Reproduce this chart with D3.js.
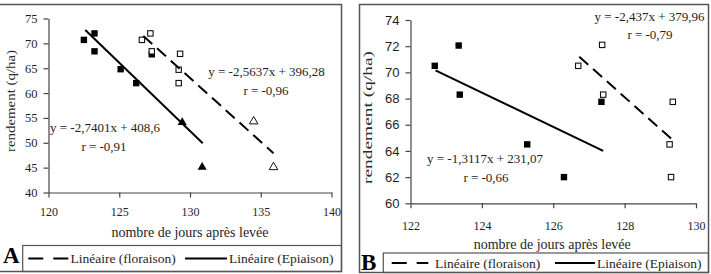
<!DOCTYPE html>
<html><head><meta charset="utf-8">
<script src="https://cdn.jsdelivr.net/npm/d3@7"></script>
<style>body{margin:0;background:#fff}svg{display:block}</style>
</head><body>
<svg id="c" width="711" height="274"></svg>
<script>
// ---------- DATA ----------
// Panel A
const aXTicks = [120, 125, 130, 135, 140];
const aYTicks = [40, 45, 50, 55, 60, 65, 70, 75];
const aFloraisonSquares = [[126.6,70.7],[127.2,72.0],[127.3,68.4],[129.3,67.9],[129.2,64.7],[129.2,62.0]];
const aFloraisonTriangles = [[134.5,54.3],[135.9,45.1]];
const aEpiaisonSquares = [[122.5,70.7],[123.25,72.0],[123.25,68.4],[125.1,64.8],[126.2,62.0],[127.3,67.8]];
const aEpiaisonTriangles = [[129.45,54.1],[130.86,45.1]];
const aFloraisonTrend = [[126.7,71.5],[135.9,47.9]];
const aEpiaisonTrend = [[122.6,72.7],[130.9,49.9]];
const aLabels = ["y = -2,5637x + 396,28","r = -0,96","y = -2,7401x + 408,6","r = -0,91"];
// Panel B
const bXTicks = [122, 124, 126, 128, 130];
const bYTicks = [60, 62, 64, 66, 68, 70, 72, 74];
const bFloraisonSquares = [[126.7,70.5],[127.37,72.1],[127.4,68.3],[129.35,67.75],[129.26,64.5],[129.3,62.0]];
const bEpiaisonSquares = [[122.68,70.5],[123.35,72.05],[123.38,68.3],[125.27,64.5],[126.3,62.0],[127.35,67.75]];
const bFloraisonTrend = [[126.73,71.2],[129.4,64.7]];
const bEpiaisonTrend = [[122.7,70.15],[127.4,64.0]];
const bLabels = ["y = -2,437x + 379,96","r = -0,79","y = -1,3117x + 231,07","r = -0,66"];
const legendNames = ["Linéaire (floraison)","Linéaire (Epiaison)"];

// ---------- DRAW ----------
const svg = d3.select("#c");
const SERIF = "'Liberation Serif','Times New Roman',serif";
const SANS = "'Liberation Sans',Arial,sans-serif";
const TXT = "#1e1e1e", AX = "#444";

function frame(x0,y0,x1,y1){
  svg.append("rect").attr("x",x0).attr("y",y0).attr("width",x1-x0).attr("height",y1-y0)
    .attr("fill","none").attr("stroke","#555").attr("stroke-width",1.5);
}

function panel(cfg){
  const g = svg.append("g");
  const x = d3.scaleLinear().domain(cfg.xd).range(cfg.xr);
  const y = d3.scaleLinear().domain(cfg.yd).range(cfg.yr);
  // axes
  const xa = g.append("g").attr("transform",`translate(0,${cfg.yr[0]})`)
    .call(d3.axisBottom(x).tickValues(cfg.xt).tickSize(5).tickPadding(cfg.xpad).tickSizeOuter(0));
  xa.attr("font-family",SERIF);
  xa.selectAll("text").attr("font-family",SERIF).attr("font-size",cfg.xfs).attr("fill",TXT);
  const ya = g.append("g").attr("transform",`translate(${cfg.xr[0]},0)`)
    .call(d3.axisLeft(y).tickValues(cfg.yt).tickSize(5).tickPadding(cfg.ypad).tickSizeOuter(0));
  ya.attr("font-family",cfg.yfont);
  ya.selectAll("text").attr("font-family",cfg.yfont).attr("font-size",cfg.yfs).attr("fill",TXT);
  g.selectAll(".domain").attr("stroke",AX).attr("stroke-width",1.2);
  g.selectAll(".tick line").attr("stroke",AX).attr("stroke-width",1.2);
  // markers
  const sq = 6.4;
  g.selectAll(null).data(cfg.epS).join("rect")
    .attr("x",d=>x(d[0])-sq/2).attr("y",d=>y(d[1])-sq/2).attr("width",sq).attr("height",sq).attr("fill","#000");
  g.selectAll(null).data(cfg.epT).join("path")
    .attr("transform",d=>`translate(${x(d[0])},${y(d[1])})`)
    .attr("d",d3.symbol(d3.symbolTriangle,36)).attr("fill","#000");
  g.selectAll(null).data(cfg.flS).join("rect")
    .attr("x",d=>x(d[0])-sq/2+0.5).attr("y",d=>y(d[1])-sq/2+0.5).attr("width",sq-1).attr("height",sq-1)
    .attr("fill","#fff").attr("stroke","#111").attr("stroke-width",1.1);
  g.selectAll(null).data(cfg.flT).join("path")
    .attr("transform",d=>`translate(${x(d[0])},${y(d[1])})`)
    .attr("d",d3.symbol(d3.symbolTriangle,32)).attr("fill","#fff").attr("stroke","#111").attr("stroke-width",1);
  // trend lines
  const line = d3.line().x(d=>x(d[0])).y(d=>y(d[1]));
  g.append("path").attr("d",line(cfg.epL)).attr("fill","none").attr("stroke","#000").attr("stroke-width",2);
  g.append("path").attr("d",line(cfg.flL)).attr("fill","none").attr("stroke","#000").attr("stroke-width",2)
    .attr("stroke-dasharray","12,6.5");
  // equation labels
  cfg.lab.forEach((t,i)=>{
    g.append("text").attr("x",cfg.labPos[i][0]).attr("y",cfg.labPos[i][1]).attr("text-anchor","middle")
      .attr("font-family",SERIF).attr("font-size",13).attr("fill",TXT).text(t);
  });
  // axis titles
  g.append("text").attr("x",(cfg.xr[0]+cfg.xr[1])/2 + cfg.xtOff).attr("y",cfg.xtY).attr("text-anchor","middle")
    .attr("font-family",SERIF).attr("font-size",14).attr("fill",TXT).text("nombre de jours après levée");
  g.append("text").attr("transform",`translate(${cfg.ytX},${cfg.ytY}) rotate(-90)`).attr("text-anchor","middle")
    .attr("font-family",SERIF).attr("font-size",13).attr("fill","#2a2a2a")
    .attr("textLength",cfg.ytLen).attr("lengthAdjust","spacingAndGlyphs").text("rendement (q/ha)");
  // legend
  const L = cfg.leg;
  svg.append("rect").attr("x",L.x0).attr("y",L.y0).attr("width",L.x1-L.x0).attr("height",L.y1-L.y0)
    .attr("fill","none").attr("stroke","#555").attr("stroke-width",1.2);
  const ly = L.ly;
  svg.append("line").attr("x1",L.d0).attr("x2",L.d1).attr("y1",ly).attr("y2",ly)
    .attr("stroke","#000").attr("stroke-width",2).attr("stroke-dasharray","15,10");
  svg.append("text").attr("x",L.t0).attr("y",ly+4.5).attr("font-family",SERIF).attr("font-size",13.5).attr("fill",TXT).text(legendNames[0]);
  svg.append("line").attr("x1",L.s0).attr("x2",L.s1).attr("y1",ly).attr("y2",ly)
    .attr("stroke","#000").attr("stroke-width",2);
  svg.append("text").attr("x",L.t1).attr("y",ly+4.5).attr("font-family",SERIF).attr("font-size",13.5).attr("fill",TXT).text(legendNames[1]);
  svg.append("text").attr("x",L.lx).attr("y",L.lby).attr("font-family",SERIF).attr("font-weight","bold")
    .attr("font-size",23).attr("fill","#000").text(L.letter);
}

frame(-2,4.5,341.5,271.5);
frame(359.5,4.5,708.5,272.5);

panel({
  xd:[120,140], xr:[48.5,331.5], yd:[40,75], yr:[192.5,18.5], xt:aXTicks, yt:aYTicks,
  xfs:12, yfs:12.5, yfont:SERIF, xpad:10, ypad:6,
  epS:aEpiaisonSquares, epT:aEpiaisonTriangles, flS:aFloraisonSquares, flT:aFloraisonTriangles,
  epL:aEpiaisonTrend, flL:aFloraisonTrend, lab:aLabels,
  labPos:[[266.5,76],[266,95],[105,132],[104,151]],
  xtOff:0, xtY:236.5, ytX:15, ytY:101, ytLen:102,
  leg:{x0:22.7,y0:245.5,x1:341.5,y1:271.5,ly:258.5,d0:28.3,d1:68.3,t0:70.5,s0:185,s1:227,t1:229,lx:3,lby:263,letter:"A"}
});

panel({
  xd:[122,130], xr:[410.5,696], yd:[60,74], yr:[203.3,20], xt:bXTicks, yt:bYTicks,
  xfs:12, yfs:13, yfont:SANS, xpad:13, ypad:6,
  epS:bEpiaisonSquares, epT:[], flS:bFloraisonSquares, flT:[],
  epL:bEpiaisonTrend, flL:bFloraisonTrend, lab:bLabels,
  labPos:[[649.5,21],[650,39],[485,163],[486,182]],
  xtOff:-1, xtY:248.5, ytX:372, ytY:117.5, ytLen:133,
  leg:{x0:383.3,y0:253,x1:708.5,y1:272.5,ly:263,d0:391.7,d1:428.3,t0:435,s0:555,s1:595,t1:597,lx:361,lby:270,letter:"B"}
});
</script>
</body></html>
